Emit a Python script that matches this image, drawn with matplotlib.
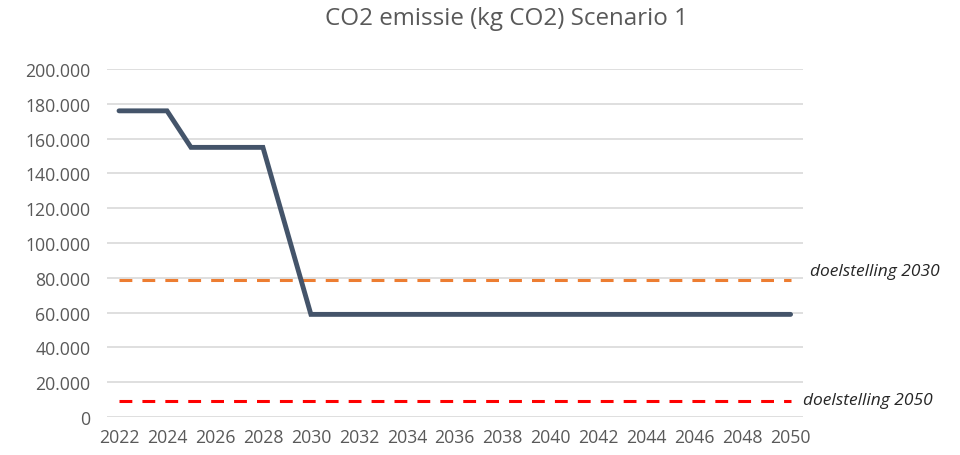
import matplotlib
matplotlib.use("Agg")
import matplotlib.pyplot as plt
from matplotlib.ticker import FuncFormatter

plt.rcParams['font.family'] = ['Open Sans', 'DejaVu Sans']

years = list(range(2022, 2051))
emissie = [176000, 176000, 176000, 155000, 155000, 155000, 155000, 107000] + [59000] * 21
doel_2030 = [79000] * len(years)
doel_2050 = [9000] * len(years)
label_2030 = "doelstelling 2030"
label_2050 = "doelstelling 2050"
title = "CO2 emissie (kg CO2) Scenario 1"

GREY_TEXT = "#595959"

fig = plt.figure(figsize=(9.6, 4.56), dpi=100)
ax = fig.add_axes([0.1115, 0.0833, 0.7245, 0.763])

ax.plot(years, doel_2030, color="#ED7D31", lw=2.2, dashes=(4.2, 3.3), zorder=2)
ax.plot(years, doel_2050, color="#FF0000", lw=2.2, dashes=(4.2, 3.3), zorder=2)
ax.plot(years, emissie, color="#44546A", lw=3.5, solid_capstyle="round",
        solid_joinstyle="miter", zorder=3)

ax.set_xlim(2021.5, 2050.5)
ax.set_ylim(0, 200000)
ax.set_yticks(range(0, 200001, 20000))
ax.set_xticks(years[::2])
ax.yaxis.set_major_formatter(FuncFormatter(lambda v, p: f"{v:,.0f}".replace(",", ".")))

ax.grid(axis="y", color="#D9D9D9", lw=1.2)
ax.set_axisbelow(True)
for s in ax.spines.values():
    s.set_visible(False)
ax.tick_params(length=0, labelsize=12.7, colors=GREY_TEXT)
ax.tick_params(axis="y", pad=12)
ax.tick_params(axis="x", pad=8)

ax.text(1.01, doel_2030[-1] + 5000, label_2030, transform=ax.get_yaxis_transform(),
        fontsize=12.5, style="italic", color="#262626", va="center", ha="left")
ax.text(1.0, doel_2050[-1] + 500, label_2050, transform=ax.get_yaxis_transform(),
        fontsize=12.5, style="italic", color="#262626", va="center", ha="left")

fig.suptitle(title, x=0.528, y=0.985, fontsize=17.4, color=GREY_TEXT, va="top")

fig.savefig("out.png", dpi=100)
